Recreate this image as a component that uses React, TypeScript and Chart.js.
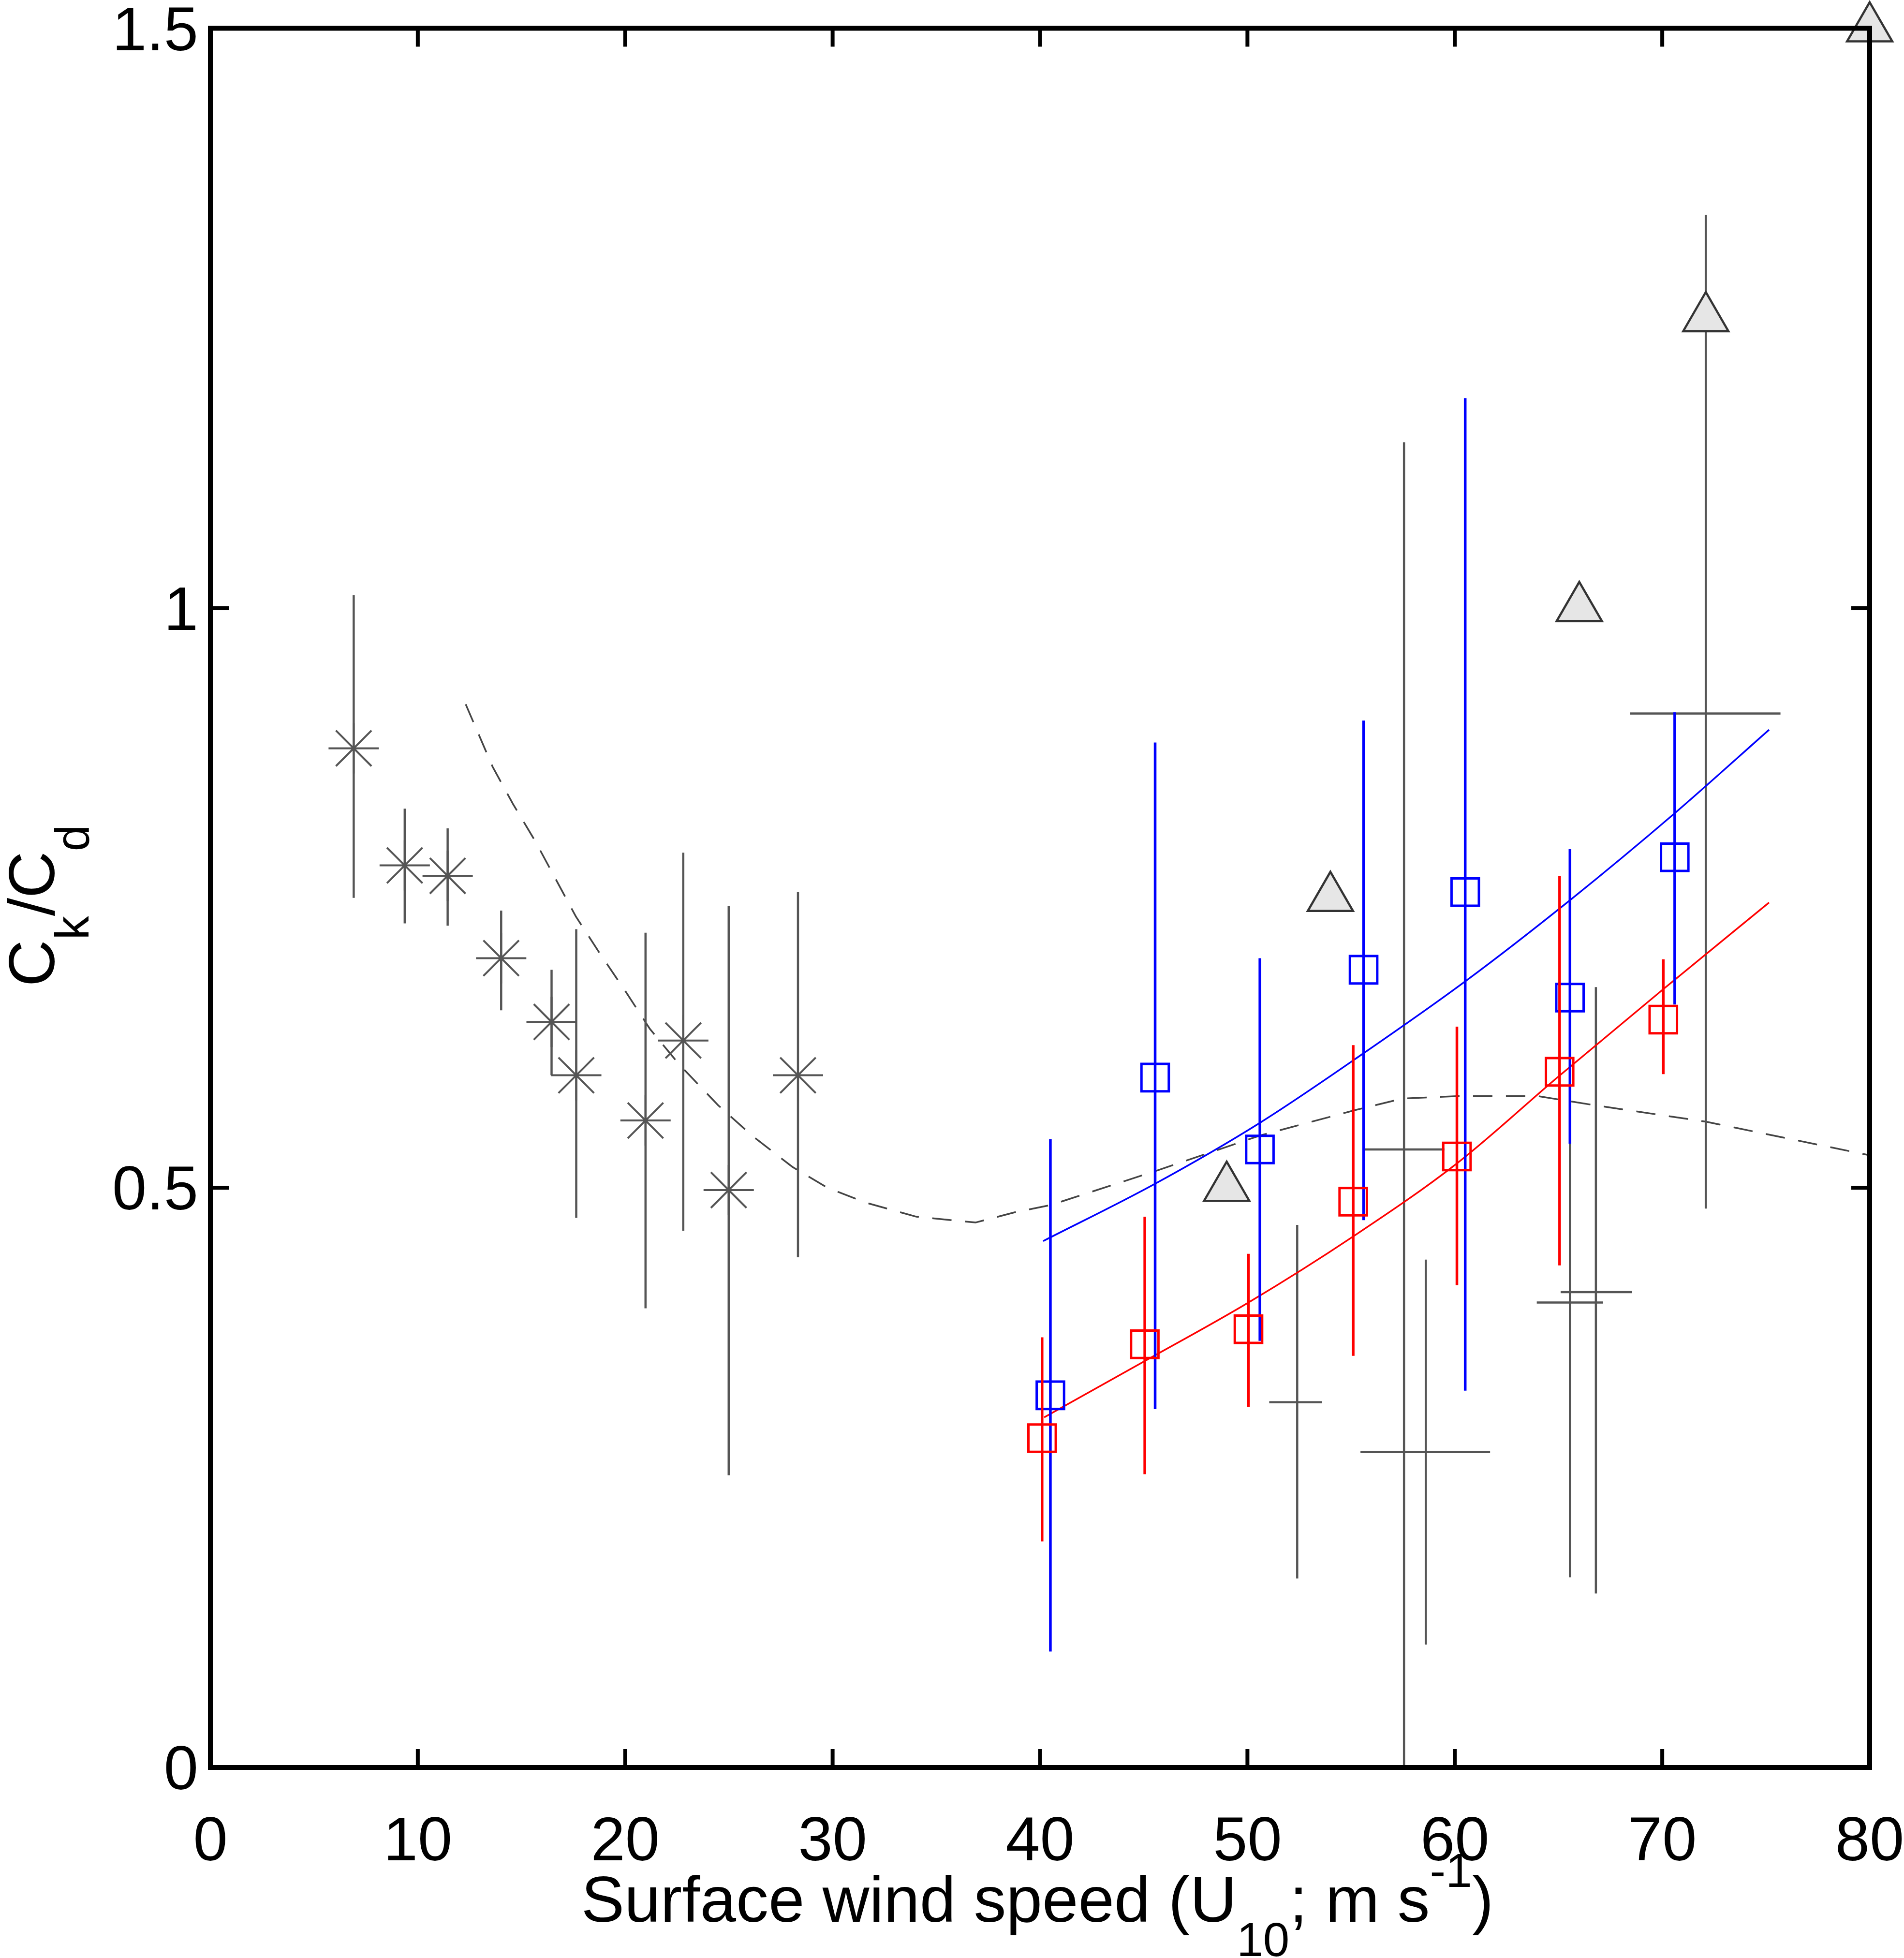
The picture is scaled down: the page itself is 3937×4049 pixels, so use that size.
import React, { useEffect, useRef } from 'react';
import { Chart, registerables } from 'chart.js';

Chart.register(...registerables);

const W = 3937;
const H = 4049;

const FONT = "'Liberation Sans', Arial, sans-serif";

const xTicks = [0, 10, 20, 30, 40, 50, 60, 70, 80];
const yTicks = [0, 0.5, 1, 1.5];
const yTickLabels = ['0', '0.5', '1', '1.5'];

// gray asterisks with vertical error bars
const starX = [6.91, 9.37, 11.44, 14.02, 16.45, 17.64, 20.98, 22.8, 24.99, 28.33];
const starY = [0.879, 0.778, 0.769, 0.698, 0.643, 0.597, 0.558, 0.627, 0.498, 0.597];
const starHi = [1.011, 0.827, 0.81, 0.739, 0.688, 0.723, 0.72, 0.789, 0.743, 0.755];
const starLo = [0.75, 0.728, 0.726, 0.653, 0.597, 0.474, 0.396, 0.463, 0.252, 0.44];

// blue squares
const blueX = [40.5, 45.55, 50.6, 55.6, 60.5, 65.55, 70.6];
const blueY = [0.321, 0.595, 0.533, 0.688, 0.755, 0.664, 0.785];
const blueHi = [0.542, 0.884, 0.698, 0.903, 1.181, 0.792, 0.91];
const blueLo = [0.1, 0.309, 0.368, 0.472, 0.325, 0.538, 0.658];

// red squares
const redX = [40.1, 45.05, 50.05, 55.1, 60.1, 65.05, 70.05];
const redY = [0.284, 0.365, 0.378, 0.488, 0.527, 0.6, 0.645];
const redHi = [0.371, 0.475, 0.443, 0.623, 0.639, 0.769, 0.697];
const redLo = [0.195, 0.253, 0.311, 0.355, 0.416, 0.433, 0.598];

// gray crosses (x and y error bars, no marker)
const crossX = [52.4, 57.55, 58.6, 65.55, 66.8, 72.1];
const crossY = [0.315, 0.533, 0.272, 0.401, 0.41, 0.909];
const crossXLo = [51.05, 55.6, 55.45, 63.95, 65.1, 68.45];
const crossXHi = [53.6, 59.5, 61.7, 67.15, 68.55, 75.7];
const crossYLo = [0.163, -0.08, 0.106, 0.164, 0.15, 0.482];
const crossYHi = [0.468, 1.143, 0.438, 0.638, 0.673, 1.339];

// gray triangles
const triX = [49.0, 54.0, 66.0, 72.1, 80.0];
const triY = [0.5, 0.75, 1.0, 1.25, 1.5];

// dashed gray curve
const dashX = [12.31, 13.61, 14.59, 15.66, 17.62, 18.78, 20.03, 21.19, 22.62, 24.49, 26.18, 28.06, 29.75, 31.63, 34.04, 36.89, 38.82, 40.5, 45.5, 50.6, 55.2, 57.5, 60.1, 64.0, 66.8, 72.1, 80.0];
const dashY = [0.917, 0.863, 0.831, 0.799, 0.734, 0.702, 0.669, 0.637, 0.606, 0.571, 0.544, 0.518, 0.5, 0.487, 0.475, 0.47, 0.479, 0.485, 0.514, 0.545, 0.567, 0.577, 0.579, 0.579, 0.571, 0.557, 0.528];

// blue fit line
const blueFitX = [40.15, 45.5, 50.6, 55.6, 60.5, 65.55, 70.6, 75.15];
const blueFitY = [0.454, 0.503, 0.556, 0.616, 0.678, 0.748, 0.823, 0.895];

// red fit line
const redFitX = [40.2, 45.0, 50.05, 55.1, 60.1, 65.0, 70.1, 75.15];
const redFitY = [0.302, 0.35, 0.401, 0.458, 0.521, 0.596, 0.672, 0.746];

const pts = (xs: number[], ys: number[]) => xs.map((x, i) => ({ x, y: ys[i] }));

const errorBars = {
  id: 'errorBars',
  beforeDatasetDraw(chart: any, args: any) {
    const ds = chart.data.datasets[args.index];
    if (!ds.errYLo && !ds.errXLo) return;
    const { ctx, chartArea: a } = chart;
    const sx = chart.scales.x;
    const sy = chart.scales.y;
    ctx.save();
    ctx.beginPath();
    ctx.rect(a.left, a.top, a.right - a.left, a.bottom - a.top);
    ctx.clip();
    ctx.strokeStyle = ds.errColor;
    ctx.lineWidth = ds.errWidth;
    ds.data.forEach((p: any, i: number) => {
      const px = sx.getPixelForValue(p.x);
      const py = sy.getPixelForValue(p.y);
      ctx.beginPath();
      if (ds.errYLo) {
        ctx.moveTo(px, sy.getPixelForValue(ds.errYLo[i]));
        ctx.lineTo(px, sy.getPixelForValue(ds.errYHi[i]));
      }
      if (ds.errXLo) {
        ctx.moveTo(sx.getPixelForValue(ds.errXLo[i]), py);
        ctx.lineTo(sx.getPixelForValue(ds.errXHi[i]), py);
      }
      ctx.stroke();
    });
    ctx.restore();
  },
};

const frame = {
  id: 'frame',
  afterDatasetsDraw(chart: any) {
    const { ctx, chartArea: a } = chart;
    const sx = chart.scales.x;
    const sy = chart.scales.y;
    const len = 38;
    ctx.save();
    ctx.strokeStyle = '#000';
    ctx.lineWidth = 10;
    ctx.strokeRect(a.left, a.top, a.right - a.left, a.bottom - a.top);
    ctx.lineWidth = 8;
    ctx.beginPath();
    xTicks.forEach((v) => {
      const px = sx.getPixelForValue(v);
      ctx.moveTo(px, a.bottom);
      ctx.lineTo(px, a.bottom - len);
      ctx.moveTo(px, a.top);
      ctx.lineTo(px, a.top + len);
    });
    yTicks.forEach((v) => {
      const py = sy.getPixelForValue(v);
      ctx.moveTo(a.left, py);
      ctx.lineTo(a.left + len, py);
      ctx.moveTo(a.right, py);
      ctx.lineTo(a.right - len, py);
    });
    ctx.stroke();
    ctx.restore();
  },
};

type Part = { text: string; size: number; dy: number };

const drawRich = (ctx: CanvasRenderingContext2D, parts: Part[], cx: number, y: number) => {
  let total = 0;
  parts.forEach((p) => {
    ctx.font = `${p.size}px ${FONT}`;
    total += ctx.measureText(p.text).width;
  });
  let x = cx - total / 2;
  parts.forEach((p) => {
    ctx.font = `${p.size}px ${FONT}`;
    ctx.fillText(p.text, x, y + p.dy);
    x += ctx.measureText(p.text).width;
  });
};

const titles = {
  id: 'titles',
  afterDraw(chart: any) {
    const { ctx } = chart;
    ctx.save();
    ctx.fillStyle = '#000';
    ctx.textAlign = 'left';
    ctx.textBaseline = 'alphabetic';
    drawRich(
      ctx,
      [
        { text: 'Surface wind speed (U', size: 134, dy: 0 },
        { text: '10', size: 98, dy: 71 },
        { text: '; m s', size: 134, dy: 0 },
        { text: '-1', size: 98, dy: -72 },
        { text: ')', size: 134, dy: 0 },
      ],
      2145,
      3974
    );
    ctx.translate(112, 1873);
    ctx.rotate(-Math.PI / 2);
    drawRich(
      ctx,
      [
        { text: 'C', size: 134, dy: 0 },
        { text: 'k', size: 98, dy: 71 },
        { text: '/C', size: 134, dy: 0 },
        { text: 'd', size: 98, dy: 71 },
      ],
      0,
      0
    );
    ctx.restore();
  },
};

const App: React.FC = () => {
  const chartRef = useRef<HTMLCanvasElement>(null);

  useEffect(() => {
    if (!chartRef.current) return;
    const ctx = chartRef.current.getContext('2d');
    if (!ctx) return;

    const gray = '#555555';
    const chart = new Chart(ctx, {
      type: 'scatter',
      data: {
        datasets: [
          {
            label: 'red',
            data: pts(redX, redY),
            pointStyle: 'rect',
            pointRadius: 40,
            pointBorderWidth: 5,
            borderColor: '#ff0000',
            backgroundColor: 'rgba(0,0,0,0)',
            errYLo: redLo,
            errYHi: redHi,
            errColor: '#ff0000',
            errWidth: 5.5,
          } as any,
          {
            label: 'blue',
            data: pts(blueX, blueY),
            pointStyle: 'rect',
            pointRadius: 40,
            pointBorderWidth: 5,
            borderColor: '#0000ff',
            backgroundColor: 'rgba(0,0,0,0)',
            errYLo: blueLo,
            errYHi: blueHi,
            errColor: '#0000ff',
            errWidth: 5.5,
          } as any,
          {
            label: 'red fit',
            data: pts(redFitX, redFitY),
            showLine: true,
            pointRadius: 0,
            borderWidth: 3.5,
            borderColor: '#ff0000',
            cubicInterpolationMode: 'monotone',
          },
          {
            label: 'blue fit',
            data: pts(blueFitX, blueFitY),
            showLine: true,
            pointRadius: 0,
            borderWidth: 3.5,
            borderColor: '#0000ff',
            cubicInterpolationMode: 'monotone',
          },
          {
            label: 'triangles',
            data: pts(triX, triY),
            pointStyle: 'triangle',
            pointRadius: 54,
            pointBorderWidth: 4.5,
            borderColor: '#333333',
            backgroundColor: '#e6e6e6',
            clip: false,
          } as any,
          {
            label: 'crosses',
            data: pts(crossX, crossY),
            pointRadius: 0,
            errYLo: crossYLo,
            errYHi: crossYHi,
            errXLo: crossXLo,
            errXHi: crossXHi,
            errColor: gray,
            errWidth: 4.5,
          } as any,
          {
            label: 'stars',
            data: pts(starX, starY),
            pointStyle: 'star',
            pointRadius: 52,
            pointBorderWidth: 4,
            borderColor: gray,
            backgroundColor: gray,
            errYLo: starLo,
            errYHi: starHi,
            errColor: gray,
            errWidth: 4.5,
          } as any,
          {
            label: 'dashed',
            data: pts(dashX, dashY),
            showLine: true,
            pointRadius: 0,
            borderWidth: 3.5,
            borderColor: '#444444',
            borderDash: [40, 28],
            tension: 0,
          },
        ],
      },
      options: {
        animation: false,
        responsive: false,
        devicePixelRatio: 1,
        events: [],
        layout: { padding: { top: 55, right: 71, left: 0, bottom: 0 } },
        plugins: {
          legend: { display: false },
          tooltip: { enabled: false },
        },
        scales: {
          x: {
            type: 'linear',
            min: 0,
            max: 80,
            afterFit: (scale: any) => {
              scale.height = H - 3655;
              scale.paddingLeft = 0;
              scale.paddingRight = 0;
            },
            afterBuildTicks: (scale: any) => {
              scale.ticks = xTicks.map((v) => ({ value: v }));
            },
            grid: { display: false, drawTicks: false },
            border: { display: false },
            ticks: {
              padding: 80,
              color: '#000',
              font: { family: FONT, size: 128 },
              maxRotation: 0,
              autoSkip: false,
              callback: (v: any) => String(v),
            },
          },
          y: {
            type: 'linear',
            min: 0,
            max: 1.5,
            afterFit: (scale: any) => {
              scale.width = 435;
              scale.paddingTop = 0;
              scale.paddingBottom = 0;
            },
            afterBuildTicks: (scale: any) => {
              scale.ticks = yTicks.map((v) => ({ value: v }));
            },
            grid: { display: false, drawTicks: false },
            border: { display: false },
            ticks: {
              padding: 25,
              labelOffset: 10,
              color: '#000',
              font: { family: FONT, size: 128 },
              autoSkip: false,
              callback: (_v: any, i: number) => yTickLabels[i],
            },
          },
        },
      },
      plugins: [errorBars, frame, titles],
    });

    return () => {
      chart.destroy();
    };
  }, []);

  return (
    <div style={{ position: 'absolute', left: 0, top: 0, width: W, height: H, background: '#fff' }}>
      <canvas ref={chartRef} width={W} height={H} style={{ display: 'block', width: W, height: H }}></canvas>
    </div>
  );
};

export default App;
